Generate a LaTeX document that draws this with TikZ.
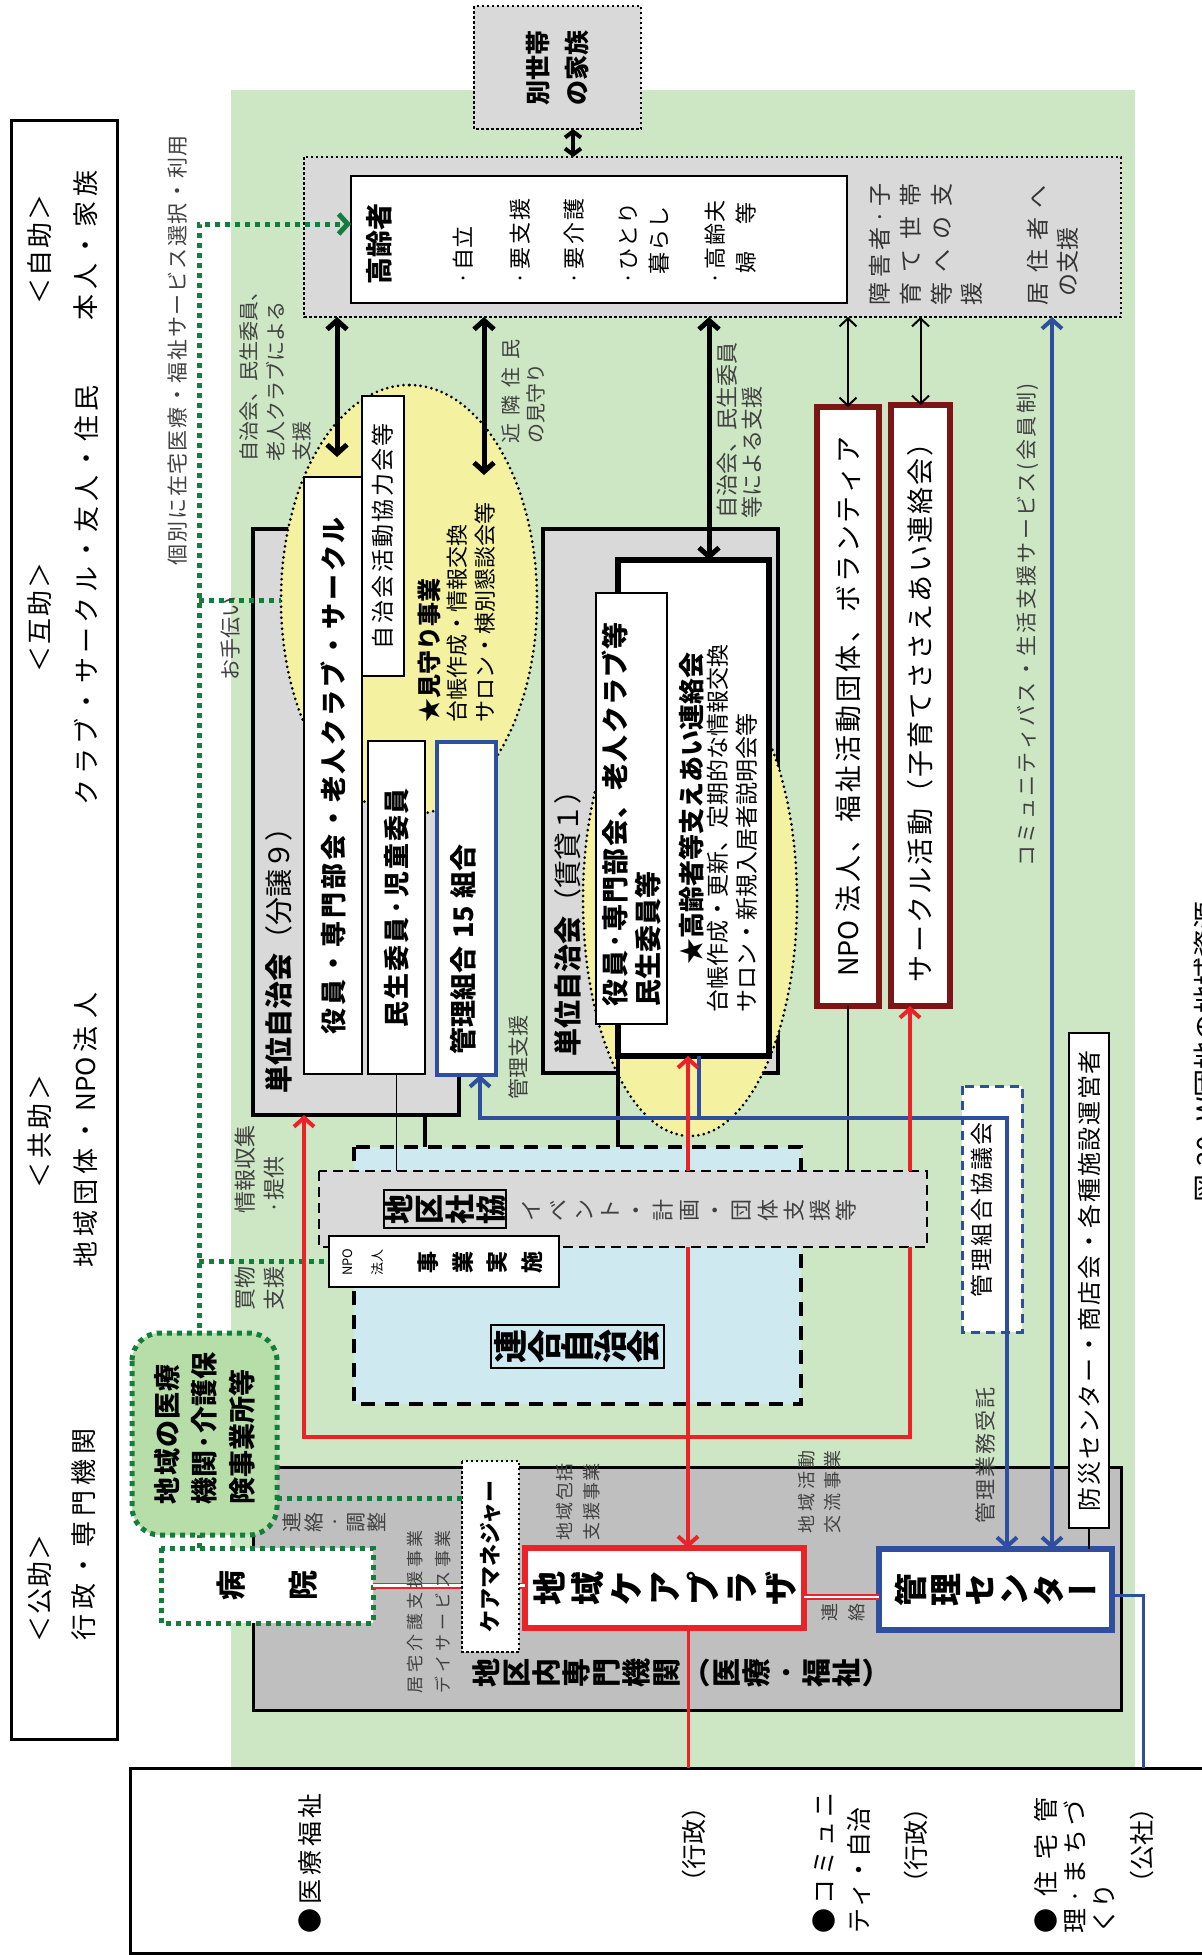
\documentclass[tikz,border=0pt]{standalone}
\usepackage{fontspec}
\setmainfont{Noto Sans CJK JP}
\usetikzlibrary{arrows.meta,shapes.geometric}

\definecolor{bgGreen}{RGB}{205,230,196}
\definecolor{boxGray}{RGB}{217,217,217}
\definecolor{darkGray}{RGB}{191,191,191}
\definecolor{ellYellow}{RGB}{244,241,160}
\definecolor{paleBlue}{RGB}{206,234,240}
\definecolor{medGreen}{RGB}{183,221,168}
\definecolor{dotGreen}{RGB}{20,125,60}
\definecolor{wine}{RGB}{125,20,22}
\definecolor{accRed}{RGB}{235,35,40}
\definecolor{accBlue}{RGB}{46,78,158}
\definecolor{labelGray}{RGB}{64,64,64}

\newcommand\fsz[2]{\fontsize{#1}{#2}\selectfont}
\newcommand\tatemoji{\addfontfeature{RawFeature=+vert}}
% 均等割り付け
\makeatletter
\def\jus@i#1#2{#1\ifx\relax#2\else\hfill\expandafter\jus@i\expandafter#2\fi}
\newcommand\jus[2]{\makebox[#1][s]{\jus@i#2\relax}}
\makeatother

\begin{document}
\begin{tikzpicture}[
    x=1pt, y=-1pt,
    >={Straight Barb[length=9pt,width=20pt]},
    every node/.style={rotate=90, inner sep=0pt, outer sep=0pt},
    % 白い枠
    shiro/.style={draw, line width=2pt, fill=white},
    % 単位自治会の枠
    hai/.style={draw, line width=4pt, fill=boxGray},
    % 点線の枠
    tensen/.style={draw, line width=2.5pt, dash pattern=on 2.5pt off 2.5pt},
    % 見守りの楕円
    daen/.style={ellipse, draw, fill=ellYellow, line width=3pt,
        line cap=round, dash pattern=on 0pt off 5.5pt},
    % 文字
    midashi/.style={font=\fsz{26}{30}},
    chuki/.style={text=labelGray, align=left},
    koumoku/.style={anchor=west, align=left, font=\fsz{22}{31}},
    tate/.style={align=center},
    % 線
    futoya/.style={line width=5pt, <->},
    hosoya/.style={line width=2pt, <->, >={Straight Barb[length=8pt,width=17pt]}},
    akasen/.style={draw=accRed, line width=4pt},
    aosen/.style={draw=accBlue, line width=4pt},
    midori/.style={draw=dotGreen, line width=5pt, dash pattern=on 5pt off 5pt},
    nijuu/.style={draw=accRed, line width=1.8pt, double=white, double distance=2.4pt}
]

% ---- 背景 ----
\useasboundingbox (0,0) rectangle (1202,1955);
\clip (0,0) rectangle (1202,1955);
\fill[bgGreen] (231,90) rectangle (1135,1955);

% ---- 左の区分 ----
\node[draw, line width=3pt, fill=white, minimum width=1619pt, minimum height=106pt] (kubun) at (64,929.5) {};
\node[midashi] (jijo)   at (40,249)  {\jus{110pt}{＜自助＞}};
\node[midashi] (jijoT)  at (86,245)  {\jus{150pt}{本人・家族}};
\node[midashi] (gojo)   at (40,617)  {\jus{110pt}{＜互助＞}};
\node[midashi] (gojoT)  at (86,595)  {\jus{420pt}{クラブ・サークル・友人・住民}};
\node[midashi] (kyojo)  at (40,1131) {\jus{114pt}{＜共助＞}};
\node[midashi] (kyojoT) at (86,1130) {\jus{150pt}{地域団体・}\hspace{6pt}NPO\hspace{4pt}\jus{60pt}{法人}};
\node[midashi] (kojo)   at (40,1588) {\jus{108pt}{＜公助＞}};
\node[midashi] (kojoT)  at (84,1534) {\jus{212pt}{行政・専門機関}};

\node[chuki, font=\fsz{21}{21}] (kobetsu) at (178,350) {\jus{430pt}{個別に在宅医療・福祉サービス選択・利用}};

% ---- 高齢者と家族 ----
\node[tensen, fill=boxGray, minimum width=123pt, minimum height=167pt, align=center,
      font=\fsz{25}{39}\bfseries] (betsu) at (557.5,67.5) {別世帯\\の家族};
\node[tensen, fill=boxGray, minimum width=160pt, minimum height=817pt] (eldout) at (712.5,237) {};
\node[shiro, line width=2.5pt, minimum width=127pt, minimum height=496pt] (elder) at (599,239.5) {};
\node[font=\fsz{27}{27}\bfseries] (elderT) at (379,244) {高齢者};
\node[koumoku] (k1) at (463,284)   {\jus{58pt}{·自立}};
\node[koumoku] (k2) at (520,284)   {\jus{86pt}{·要支援}};
\node[koumoku] (k3) at (574,284)   {\jus{86pt}{·要介護}};
\node[koumoku] (k4) at (644.5,284) {\jus{82pt}{·ひとり}\\\hspace{10pt}\jus{68pt}{暮らし}};
\node[koumoku] (k5) at (730.5,284) {\jus{84pt}{·高齢夫}\\\hspace{11pt}\jus{71pt}{婦等}};
\node[koumoku, text=black!80, font=\fsz{23}{30.7}] (shogai) at (926,305)
      {\jus{122pt}{障害者·子}\\\jus{122pt}{育て世帯}\\\jus{122pt}{等への支}\\援};
\node[koumoku, text=black!80, font=\fsz{23}{30}] (kyoju) at (1053,305)
      {\jus{120pt}{居住者へ}\\\hspace{9pt}の支援};

% ---- 単位自治会 ----
\node[hai, minimum width=586pt, minimum height=206pt] (bunjo) at (356,822) {};
\node[hai, minimum width=544pt, minimum height=235pt] (chintai) at (660.5,801) {};
\node[daen, minimum width=430pt, minimum height=256pt] (daen1) at (409,600) {};
\node[daen, minimum width=472pt, minimum height=214pt] (daen2) at (690,900) {};
\node[font=\fsz{28}{28}] (bunjoT) at (279,953) {{\bfseries 単位自治会}（分譲９）};
\node[font=\fsz{28}{28}] (chintaiT) at (568,916.5) {{\bfseries 単位自治会}（賃貸１）};

\node[shiro, minimum width=597pt, minimum height=58pt, font=\fsz{26}{26}\bfseries] (yakuin1) at (333,775.5)
      {\jus{517pt}{役員・専門部会・老人クラブ・サークル}};
\node[shiro, minimum width=280pt, minimum height=42pt, font=\fsz{23}{23}] (kyoryoku) at (383,536)
      {\jus{226pt}{自治会活動協力会等}};
\node[shiro, minimum width=333pt, minimum height=57pt, font=\fsz{26}{26}\bfseries] (minsei1) at (396.5,907.5)
      {\jus{239pt}{民生委員·児童委員}};
\node[shiro, draw=accBlue, line width=4.5pt, minimum width=333pt, minimum height=59pt] (kumiai) at (466.5,908.5) {};
\node[font=\fsz{27}{27}\bfseries] (kumiaiT) at (463,949.5) {管理組合\hspace{8pt}15\hspace{8pt}組合};
\node[anchor=west, align=left, font=\fsz{22}{27.5}] (mimamori) at (456.5,722)
      {{\bfseries\fsz{24}{27.5}★見守り事業}\\台帳作成・情報交換\\サロン・棟別懇談会等};

\node[shiro, line width=5.5pt, minimum width=496pt, minimum height=151pt] (renraku) at (693.5,808) {};
\node[shiro, minimum width=431pt, minimum height=71pt] (yakuin2) at (631.5,808.5) {};
\node[anchor=west, align=left, font=\fsz{27}{33}\bfseries] (yakuin2T) at (631.5,1006)
      {\jus{384pt}{役員·専門部会、老人クラブ等}\\民生委員等};
\node[font=\fsz{26}{26}\bfseries] (renrakuT) at (692,808) {★高齢者等支えあい連絡会};
\node[anchor=west, align=left, font=\fsz{23}{29}] (renrakuS) at (732.5,1012)
      {台帳作成・更新、定期的な情報交換\\サロン・新規入居者説明会等};

% ---- NPO・サークル ----
\node[shiro, draw=wine, line width=5.5pt, minimum width=599pt, minimum height=62pt, font=\fsz{27}{27}] (npo) at (848,706.5)
      {NPO\hspace{8pt}\jus{476pt}{法人、福祉活動団体、ボランティア}};
\node[shiro, draw=wine, line width=5.5pt, minimum width=601pt, minimum height=59pt, font=\fsz{27}{27}] (saakuru) at (920.5,705.5)
      {\jus{553pt}{サークル活動（子育てささえあい連絡会）}};
\node[chuki, font=\fsz{21}{21}] (bus) at (1028,625) {\jus{483pt}{コミュニティバス・生活支援サービス(会員制)}};

% ---- 地区内専門機関 ----
\node[draw, line width=3pt, fill=darkGray, minimum width=243pt, minimum height=868pt] (senmon) at (687,1588.5) {};

% ---- 協議会・防災 ----
\node[shiro, draw=accBlue, line width=3pt, dash pattern=on 9pt off 6pt, minimum width=246pt, minimum height=60pt] (kyogikai) at (992,1209) {};
\node[font=\fsz{23}{23}] (kyogikaiT) at (982,1209.5) {\jus{175pt}{管理組合協議会}};
\node[shiro, minimum width=495pt, minimum height=40pt, font=\fsz{24}{24}] (bousai) at (1089,1280.5)
      {\jus{461pt}{防災センター・商店会・各種施設運営者}};

% ---- 連合自治会・地区社協 ----
\node[draw, line width=4.5pt, dash pattern=on 14pt off 10pt, fill=paleBlue, minimum width=257pt, minimum height=447pt] (rengo) at (577.5,1275.5) {};
\node[draw, line width=2pt, fill=paleBlue, minimum width=43pt, minimum height=173pt, tate,
      font=\fsz{34}{33.25}\bfseries] (rengoT) at (577.5,1346.5) {連\\合\\自\\治\\会};
\node[draw, line width=2.5pt, dash pattern=on 10pt off 6pt, fill=boxGray, minimum width=76pt, minimum height=608pt] (shakyo) at (623,1209) {};
\node[draw, line width=2pt, fill=boxGray, minimum width=38pt, minimum height=122pt, tate,
      font=\fsz{30}{30.7}\bfseries] (shakyoT) at (445,1209) {地\\区\\社\\協};
\node[tate, text=labelGray, font=\fsz{22}{26.25}] (event) at (689.5,1210)
      {イ\\ベ\\ン\\ト\\・\\計\\画\\・\\団\\体\\支\\援\\等};
\node[shiro, minimum width=51pt, minimum height=230pt] (npojigyo) at (444,1261.5) {};
\node[tate, font=\fsz{13}{30}] (npojigyoA) at (363,1262) {NPO\\法人};
\node[tate, font=\fsz{22}{34.5}\bfseries] (npojigyoB) at (480,1262) {事\\業\\実\\施};

% ---- 病院・ケアプラザ・管理センター ----
\node[shiro, draw=dotGreen, line width=5pt, dash pattern=on 5pt off 5pt, minimum width=75pt, minimum height=212pt, tate,
      font=\fsz{30}{72}\bfseries] (byoin) at (267,1585.5) {病\\院};
\node[shiro, draw=accRed, line width=6pt, minimum width=80pt, minimum height=279pt, tate,
      font=\fsz{34}{38.5}\bfseries] (plaza) at (664.5,1588) {地\\域\\ケ\\ア\\プ\\ラ\\ザ};
\node[shiro, draw=accBlue, line width=6pt, minimum width=81pt, minimum height=233pt, tate,
      font=\fsz{33}{34.4}\bfseries\tatemoji] (kanri) at (995.5,1589.5) {管\\理\\セ\\ン\\タ\\ー};

% 緑の点線（個別の利用）
\coordinate (gv) at (199,224);
\draw[midori,->] (byoin.east -| gv) -- (gv) -- (gv -| elder.north);
\draw[midori] (gv |- daen1.north) -- (daen1.north);
\draw[midori] (gv |- npojigyo.north) -- (npojigyo.north);

\node[draw=dotGreen, line width=5pt, dash pattern=on 5pt off 5pt, fill=medGreen, rounded corners=28pt,
      minimum width=202pt, minimum height=145pt, align=left, font=\fsz{27}{37.5}\bfseries] (iryo) at (204.5,1434)
      {\jus{140pt}{地域の医療}\\\jus{140pt}{機関·介護保}\\\jus{126pt}{険事業所等}};

\coordinate (rc2) at (840,1597);
\draw[nijuu] (byoin.south) -- (byoin.south -| plaza.north);
\draw[nijuu] (rc2 -| plaza.south) -- (rc2 -| kanri.north);

\node[shiro, tensen, fill=white, minimum width=191pt, minimum height=57pt, font=\fsz{22}{22}\bfseries] (caremgr) at (490.5,1556.5) {ケアマネジャー};
\coordinate (gh) at (277,1498);
\draw[midori] (gh) -- (gh -| caremgr.north);

% ---- 下の分野欄 ----
\node[draw, line width=3pt, fill=white, minimum width=185pt, minimum height=1130pt] (sector) at (695,1860.5) {};

% ---- 黒の矢印 ----
\coordinate (c0) at (573,140);
\coordinate (c1) at (337,457);
\coordinate (c2) at (484,475);
\coordinate (c3) at (709,560);
\draw[line width=4pt, <->, >={Straight Barb[length=6pt,width=16pt]}] (betsu.west -| c0) -- (eldout.east -| c0);
\draw[futoya] (eldout.west -| c1) -- (c1);
\draw[futoya] (eldout.west -| c2) -- (c2);
\draw[futoya] (eldout.west -| c3) -- (renraku.east -| c3);
\draw[hosoya] (eldout.west -| npo.east) -- (npo.east);
\draw[hosoya] (eldout.west -| saakuru.east) -- (saakuru.east);

\coordinate (c4) at (425,1115);
\draw[line width=1.5pt] (minsei1.west) -- (minsei1.west |- shakyo.east);
\draw[line width=4pt] (bunjo.west -| c4) -- (c4 |- rengo.east);
\draw[line width=4pt] (renraku.north west) -- (renraku.north west |- rengo.east);
\draw[line width=1.5pt] (npo.west) -- (npo.west |- shakyo.east);
\draw[line width=1.5pt] (bousai.west) -- (bousai.west |- kanri.east);

% ---- 青の線 ----
\coordinate (bj) at (699,1118);
\coordinate (bl) at (480,1118);
\coordinate (br) at (1007,1118);
\coordinate (bv) at (1052,317);
\coordinate (bx) at (1143,1595);
\draw[aosen,->] (renraku.west -| bj) -- (bj) -- (bl) -- (bl |- kumiai.west);
\draw[aosen,->] (bj) -- (br) -- (br |- kanri.east);
\draw[aosen,<->] (eldout.west -| bv) -- (kanri.east -| bv);
\draw[aosen, line width=3pt] (kanri.south |- bx) -- (bx) -- (bx |- sector.east);

% ---- 赤の線 ----
\coordinate (rv) at (688,1437);
\coordinate (rl) at (304,1437);
\coordinate (rr) at (910,1437);
\draw[akasen,<-] (rv |- renraku.west) -- (rv |- shakyo.east);
\draw[akasen,->] (rv |- shakyo.west) -- (rv |- plaza.east);
\draw[akasen,<-] (rl |- bunjo.west) -- (rl) -- (rr) -- (rr |- shakyo.west);
\draw[akasen,->] (rr |- shakyo.east) -- (rr |- saakuru.west);
\draw[akasen, line width=3pt] (rv |- plaza.west) -- (rv |- sector.east);

% ---- 注記 ----
\node[chuki, anchor=west, font=\fsz{20}{26.5}] (shien1) at (275.5,461) {自治会、民生委員、\\老人クラブによる\\支援};
\node[chuki, anchor=west, font=\fsz{20}{25}] (kinrin) at (523.5,443) {\jus{104pt}{近隣住民}\\の見守り};
\node[chuki, anchor=west, font=\fsz{22}{25}] (shien2) at (739.5,518) {自治会、民生委員\\等による支援};
\node[chuki, font=\fsz{21}{21}] (otetsudai) at (231,638) {お手伝い};
\node[chuki, font=\fsz{21}{21}] (kanrishien) at (518,1057) {管理支援};
\node[chuki, anchor=west, font=\fsz{22}{29}] (joho) at (259.5,1213) {情報収集\\·提供};
\node[chuki, anchor=west, font=\fsz{22}{29}] (kaimono) at (259.5,1310) {買物\\支援};

\node[tate, font=\fsz{29}{30}\bfseries\tatemoji] (senmonT) at (680,1673)
      {地\\区\\内\\専\\門\\機\\関\\（\\医\\療\\·\\福\\祉\\）};
\node[chuki, tate, font=\fsz{20}{21.25}] (chosei) at (334.5,1522) {連\\絡\\·\\調\\整};
\node[chuki, anchor=west, font=\fsz{17}{28}] (kyotaku) at (429,1693)
      {\jus{163pt}{居宅介護支援事業}\\\jus{163pt}{デイサービス事業}};
\node[chuki, font=\fsz{18}{27}] (houkatsu) at (578.5,1501.5) {\jus{77pt}{地域包括}\\\jus{77pt}{支援事業}};
\node[chuki, font=\fsz{18}{26}] (koryu) at (820,1491.5) {\jus{83pt}{地域活動}\\\jus{83pt}{交流事業}};
\node[chuki, font=\fsz{21}{21}] (itaku) at (985,1455) {\jus{136pt}{管理業務受託}};
\node[chuki, tate, font=\fsz{18}{27}] (renraku3) at (843.5,1612) {連\\絡};

% ---- 分野欄の文字 ----
\node[font=\fsz{25}{25}] (iryofukushi) at (310,1863) {\jus{140pt}{●医療福祉}};
\node[font=\fsz{25}{25}] (gyosei1) at (694,1844) {（行政）};
\node[anchor=west, align=left, font=\fsz{25}{35}] (community) at (841.5,1933)
      {\jus{141pt}{●コミュニ}\\\jus{126pt}{ティ・自治}};
\node[font=\fsz{25}{25}] (gyosei2) at (916,1845) {（行政）};
\node[anchor=west, align=left, font=\fsz{25}{29}] (jutaku) at (1075,1933)
      {\jus{136pt}{●住宅管}\\\jus{133pt}{理·まちづ}\\\jus{40pt}{くり}};
\node[font=\fsz{25}{25}] (kosha) at (1142,1845) {（公社）};

% ---- 図の題 ----
\node[font=\fsz{28}{28}] (zu) at (1207,1052) {図\hspace{8pt}20\hspace{14pt}W団地の地域資源};

\end{tikzpicture}
\end{document}
